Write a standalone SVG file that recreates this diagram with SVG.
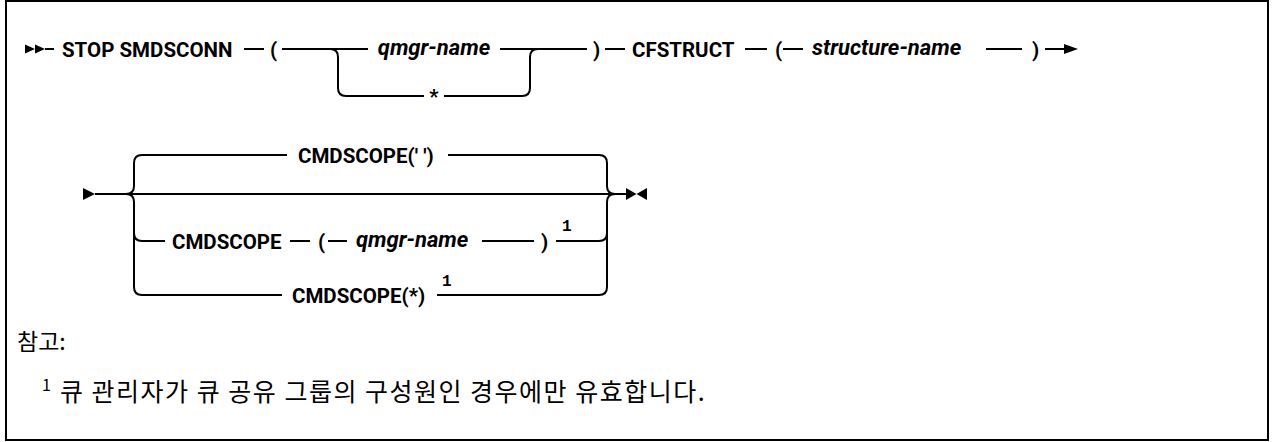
<svg xmlns="http://www.w3.org/2000/svg" width="1274" height="442" viewBox="0 0 1274 442">
<style>
.k{font-family:Roboto,"Liberation Sans",Arial,sans-serif;font-weight:bold;font-size:20.5px;fill:#000}
.v{font-family:Roboto,"Liberation Sans",Arial,sans-serif;font-weight:bold;font-style:italic;font-size:22px;fill:#000}
.s{font-family:"Liberation Mono","Courier New",monospace;font-weight:bold;font-size:16px;fill:#000}
.n{font-family:"Noto Sans CJK KR","Noto Sans",sans-serif;font-size:23px;fill:#000}
.f{font-family:"Noto Sans CJK KR","Noto Sans",sans-serif;font-size:25px;letter-spacing:1.5px;fill:#000}
.ns{font-family:"Noto Sans CJK KR","Noto Sans",sans-serif;font-size:16px;fill:#000}
.l{fill:none;stroke:#000;stroke-width:2}
.m{fill:#000}
</style>
<rect x="6" y="1" width="1262" height="439" fill="#fff" stroke="#000" stroke-width="2"/>
<g id="connectors">
<path class="l" d="M45 49H54 M244 49H264 M282 49H368 M500 49H587 M605 49H625 M745 49H767 M783 49H803 M986 49H1022 M1045 49H1066"/>
<path class="l" d="M330 49Q338 49 338 57V88Q338 96 346 96H424 M444 96H522Q530 96 530 88V57Q530 49 538 49"/>
<path class="l" d="M95 194H626"/>
<path class="l" d="M126 194Q134 194 134 186V163Q134 155 142 155H287 M448 155H599Q607 155 607 163V186Q607 194 615 194"/>
<path class="l" d="M126 194Q134 194 134 202V287Q134 295 142 295H282 M437 295H599Q607 295 607 287V202Q607 194 615 194"/>
<path class="l" d="M134 233Q134 241 142 241H165 M290 241H310 M328 241H347 M482 241H534 M556 241H599Q607 241 607 233"/>
<polygon class="m" points="25,44.5 35,49 25,53.5"/>
<polygon class="m" points="35,44.5 45,49 35,53.5"/>
<polygon class="m" points="1064,44 1078,49 1064,54"/>
<polygon class="m" points="83,188 95,194 83,200"/>
<polygon class="m" points="626,188 636.5,194 626,200"/>
<polygon class="m" points="647,188 636.5,194 647,200"/>
</g>
<g id="stop"><text class="k" x="62" y="56.5">STOP SMDSCONN</text></g>
<g id="lp1"><text class="k" x="270" y="56.5">(</text></g>
<g id="qmgr1"><text class="v" x="434" y="55" text-anchor="middle">qmgr-name</text></g>
<g id="star"><text class="k" x="434" y="104" text-anchor="middle">*</text></g>
<g id="rp1"><text class="k" x="593" y="56.5">)</text></g>
<g id="cfstruct"><text class="k" x="632" y="56.5">CFSTRUCT</text></g>
<g id="lp2"><text class="k" x="775" y="56.5">(</text></g>
<g id="structname"><text class="v" x="812" y="55">structure-name</text></g>
<g id="rp2"><text class="k" x="1032" y="56.5">)</text></g>
<g id="cmdblank"><text class="k" x="298" y="162.5">CMDSCOPE(' ')</text></g>
<g id="cmdq"><text class="k" x="172" y="248.5">CMDSCOPE</text><text class="k" x="318" y="248.5">(</text><text class="v" x="356" y="247">qmgr-name</text><text class="k" x="541" y="248.5">)</text><text class="s" x="562" y="231">1</text></g>
<g id="cmdstar"><text class="k" x="292" y="302.5">CMDSCOPE(*)</text><text class="s" x="442" y="286">1</text></g>
<g id="notes"><text class="n" x="17" y="350">참고:</text><text class="ns" x="42" y="391">1</text><text class="f" x="60" y="401">큐 관리자가 큐 공유 그룹의 구성원인 경우에만 유효합니다.</text></g>
</svg>
